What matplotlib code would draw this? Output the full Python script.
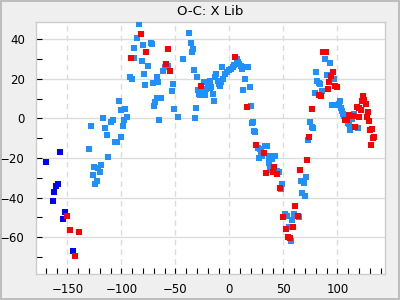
import matplotlib
matplotlib.use("Agg")
from matplotlib import pyplot as plt
from matplotlib.patches import Rectangle
from matplotlib.ticker import MultipleLocator

# light blue series
blue_x = [-129.8, -112.2, -125.2, -122.0, -118.7, -119.6, -126.1, -122.4, -124.3, -105.7,
          -103.9, -102.0, -100.7, -96.5, -94.6, -97.4, -98.3, -100.2, -107.6, -109.4,
          -116.9, -115.0, -113.1, -128.0,
          -69.6, -68.6, -66.9, -65.0, -83.5, -85.4, -88.1, -79.8, -72.4, -71.5,
          -88.1, -80.7, -75.2, -59.7, -61.9, -57.2, -43.1, -78.9, -92.4, -90.0,
          -66.9, -65.8, -70.6, -78.0, -52.0, -52.9, -63.1, -51.1, -47.4,
          -37.2, -35.4, -33.5, -34.4, -32.6, -29.8, -23.6, -21.1, -28.9, -24.3,
          -21.8, -27.3, -22.7, -30.7, -31.7, -28.0, -19.6, -17.8, -16.9, -15.0,
          -14.1, -17.8, -13.1, -12.2, -6.7, -10.4, -9.4, -7.6, -8.5, -5.7,
          -3.9, -2.0, -0.2, 1.7, 3.5, 4.4, 7.2, 8.1, 9.1, 10.9,
          11.9, 15.6, 17.4, 14.6, 12.8, 19.3, 20.2,
          21.1, 22.0, 23.0, 23.9, 26.7, 28.5, 29.4, 33.1, 35.0, 27.6,
          30.4, 36.9, 37.8, 39.6, 42.4, 36.9, 37.8, 39.6, 44.3, 46.2,
          48.9, 48.0, 73.0, 71.1, 66.5, 69.3, 67.4, 70.2, 51.7, 53.5,
          60.0, 64.6, 58.1, 55.4, 57.2,
          88.7, 93.3, 80.4, 90.6, 97.0, 81.3, 83.1, 84.1, 85.9, 79.4,
          102.6, 101.7, 95.2, 98.9, 103.5, 104.4, 105.4, 106.3, 107.2, 110.0,
          111.9, 115.6, 119.3, 113.7, 74.8, 76.7, 77.6, 110.9]
blue_y = [-15.6, -19.6, -24.7, -25.2, -23.7, -27.2, -28.7, -31.8, -33.3, -12.1,
          -11.8, 8.6, 4.1, 4.6, 0.6, -1.0, -4.0, -9.5, -1.0, -2.0,
          0.1, -5.0, -8.5, -4.0,
          6.3, 8.4, 10.2, -1.0, 47.5, 40.5, 35.4, 36.9, 37.9, 37.4,
          30.4, 28.8, 26.3, 25.8, 23.8, 26.3, 29.8, 22.3, 20.8, 19.7,
          20.8, 18.2, 17.7, 16.7, 17.2, 13.7, 10.2, 4.6, 0.6,
          43.0, 37.9, 34.9, 33.4, 24.3, 20.8, 18.2, 18.4, 14.2, 14.8,
          14.8, 11.7, 11.7, 5.1, 0.1, 12.2, 15.2, 15.2, 15.7, 12.2,
          8.6, 18.7, 20.8, 22.3, 25.8, 18.7, 17.2, 18.2, 16.2, 19.7,
          22.3, 23.3, 24.3, 24.8, 25.8, 26.8, 29.8, 28.3, 27.3, 26.3,
          24.8, 25.8, 25.8, 19.7, 14.2, 15.7, 6.1,
          -2.5, -2.0, -6.5, -7.0, -15.1, -15.6, -17.1, -14.1, -14.1, -20.2,
          -19.1, -19.6, -19.1, -20.7, -19.1, -22.7, -25.7, -26.2, -26.7, -27.2,
          -33.3, -35.8, -11.1, -29.7, -31.8, -32.8, -37.8, -39.3, -48.4, -49.4,
          -48.4, -49.9, -51.5, -55.0, -62.1,
          29.8, 27.8, 23.3, 21.8, 19.7, 18.7, 17.7, 17.2, 13.7, 12.7,
          8.6, 7.1, 6.6, 6.6, 5.1, 3.6, 2.1, 1.1, 1.1, -2.5,
          -6.0, 2.1, -5.0, -0.5, -2.0, -4.5, -5.0, -3.0]

# dark blue series
navy_x = [-156.7, -169.6, -158.5, -160.4, -162.2, -163.1, -152.0, -153.9, -144.6]
navy_y = [-17.1, -22.2, -33.3, -34.3, -37.3, -41.9, -47.4, -51.0, -67.1]

# red series
red_x = [-150.2, -147.4, -139.1, -142.8,
         -81.7, -77.0, -56.7, -90.9, -58.5, -54.8, -26.1, 5.4, 16.5,
         24.8, 32.2, 41.5, 40.6, 34.1, 44.3, 47.0, 73.9, 72.0, 65.6,
         60.9, 49.8, 63.7, 52.6, 59.1, 54.4, 56.3,
         86.9, 89.6, 96.1, 94.3, 92.4, 98.0, 99.8, 91.5, 83.1, 85.0,
         123.9, 123.0, 124.9, 126.8, 118.3, 120.2, 122.0, 76.7, 128.5, 127.6,
         129.4, 110.9, 109.1, 107.2, 114.6, 120.2, 116.5, 130.4, 132.2, 133.1,
         134.1, 131.3]
red_y = [-49.4, -56.5, -57.5, -69.6,
         42.5, 33.4, 34.9, 30.4, 27.3, 23.8, 16.2, 30.9, 5.6,
         -13.6, -17.6, -24.7, -27.2, -27.7, -28.2, -35.3, -9.5, -21.2, -26.2,
         -44.4, -49.9, -49.4, -56.0, -55.0, -60.1, -60.6,
         33.4, 33.4, 23.3, 21.3, 18.2, 16.2, 15.7, 14.7, 11.7, 11.2,
         11.2, 8.6, 9.1, 7.1, 5.6, 5.1, 4.1, 4.6, 3.1, 0.6,
         -1.5, 1.6, -1.0, -1.0, 1.1, 0.6, -4.5, -6.0, -5.5, -10.0,
         -9.6, -13.6]

fig = plt.figure(figsize=(4, 3), dpi=100, facecolor='#efefef')
fig.patches.append(Rectangle((0.002, 0.003), 0.995, 0.994, transform=fig.transFigure,
                             fill=False, edgecolor='#b4b4b4', linewidth=1.2))
ax = fig.add_axes([0.09, 0.086, 0.8725, 0.841])
ax.set_facecolor('white')

ms = 3.7
ax.plot(blue_x, blue_y, 's', color='#1e90ff', markersize=ms, markeredgewidth=0, zorder=3)
ax.plot(navy_x, navy_y, 's', color='#0000ff', markersize=ms, markeredgewidth=0, zorder=4)
ax.plot(red_x, red_y, 's', color='#ff0000', markersize=ms, markeredgewidth=0, zorder=5)

ax.set_xlim(-179, 144)
ax.set_ylim(-78.7, 48.7)
ax.xaxis.set_major_locator(MultipleLocator(50))
ax.xaxis.set_minor_locator(MultipleLocator(10))
ax.yaxis.set_major_locator(MultipleLocator(20))
ax.yaxis.set_minor_locator(MultipleLocator(10))

ax.grid(axis='x', which='major', color='#dcdcdc', linestyle=(0, (4, 3)), linewidth=1)
ax.grid(axis='y', which='major', color='#dcdcdc', linestyle='-', linewidth=1)
ax.set_axisbelow(True)

ax.tick_params(which='both', direction='in', length=4, width=0.8, color='black',
               labelsize=8.5, top=False, right=False)
ax.tick_params(axis='y', pad=8)
ax.tick_params(axis='x', pad=6)
for s in ax.spines.values():
    s.set_color('#cccccc')
    s.set_linewidth(1)

ax.set_title("O-C: X Lib", fontsize=9.5, pad=5)

fig.savefig("out.png", dpi=100, facecolor=fig.get_facecolor())
